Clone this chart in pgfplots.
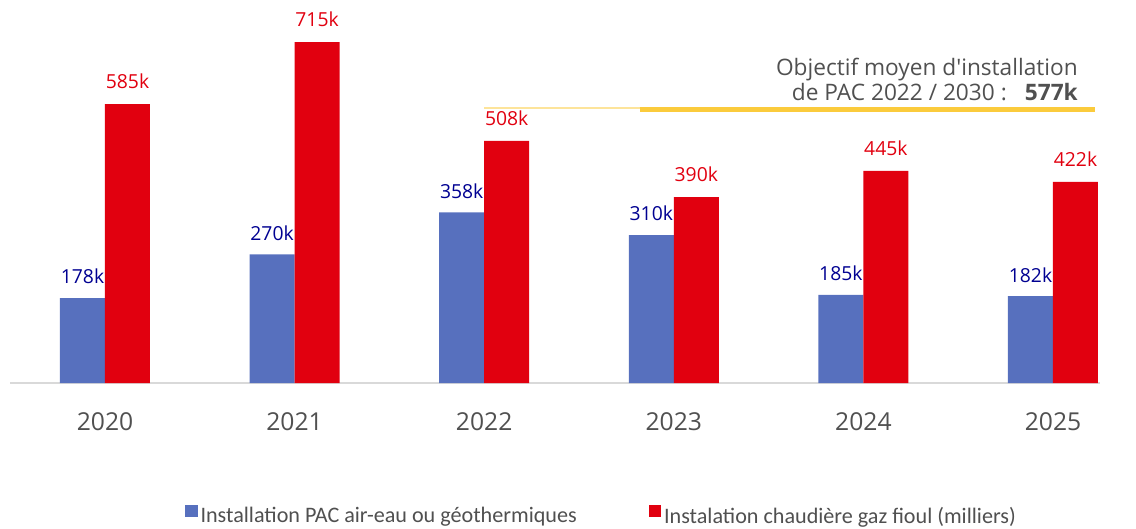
\documentclass[border=0pt]{standalone}
\usepackage{pgfplots}
\pgfplotsset{compat=1.18}
\usepackage{fontspec}
\setmainfont{Open Sans}
\newfontfamily\plain{Open Sans}
\newfontfamily\calib{Carlito}
\definecolor{pacBlue}{HTML}{5770BE}
\definecolor{gazRed}{HTML}{E1000F}
\definecolor{lblBlue}{HTML}{000091}
\definecolor{tickGray}{HTML}{505050}
\definecolor{goalGold}{HTML}{FBCB3C}
\definecolor{goalLight}{HTML}{FDE49A}

\begin{document}
\begin{tikzpicture}
\begin{axis}[
  scale only axis,
  width=817.5pt, height=287.25pt,
  xmin=-0.501, xmax=5.248,
  ymin=0, ymax=803.4,
  ybar=0pt, bar width=33.75pt,
  axis x line*=bottom, axis y line=none,
  x axis line style={draw=black!15, line width=1pt, -},
  xtick={0,...,5},
  xticklabels={2020,2021,2022,2023,2024,2025},
  major tick length=0pt,
  xticklabel style={font=\fontsize{18.5}{20}\selectfont, text=tickGray, yshift=-19pt},
  /pgf/number format/assume math mode=true,
  legend columns=2,
  legend style={
    at={(0.543,-0.347)}, anchor=center, draw=none,
    font=\calib\fontsize{16.6}{19}\selectfont, text=tickGray,
    /tikz/every even column/.append style={column sep=52pt},
  },
  legend image code/.code={\fill[#1] (0pt,-1pt) rectangle (9.5pt,8.5pt);},
]

\addplot[fill=pacBlue, draw=none,
  nodes near coords={\pgfmathprintnumber{\pgfplotspointmeta}k},
  nodes near coords style={text=lblBlue, font=\fontsize{14.5}{16}\selectfont, yshift=7pt}]
  coordinates {(0,178)(1,270)(2,358)(3,310)(4,185)(5,182)};
\addlegendentry{Installation PAC air-eau ou géothermiques}

\addplot[fill=gazRed, draw=none,
  nodes near coords={\pgfmathprintnumber{\pgfplotspointmeta}k},
  nodes near coords style={text=gazRed, font=\fontsize{14.5}{16}\selectfont, yshift=8pt}]
  coordinates {(0,585)(1,715)(2,508)(3,390)(4,445)(5,422)};
\addlegendentry{Instalation chaudière gaz fioul (milliers)}

% objectif 2022/2030
\addplot[sharp plot, forget plot, no marks, draw=goalLight, line width=1.5pt]
  coordinates {(2.0,577)(2.82,577)};
\addplot[sharp plot, forget plot, no marks, draw=goalGold, line width=3.75pt]
  coordinates {(2.82,574)(5.22,574)};

\node[anchor=base east, text=tickGray, font=\plain\fontsize{17}{20}\selectfont, inner sep=0pt]
  at (axis cs:5.132,645) {Objectif moyen d'installation};
\node[anchor=base east, text=tickGray, font=\plain\fontsize{17}{20}\selectfont, inner sep=0pt]
  at (axis cs:5.132,592) {de PAC 2022 / 2030 :\hspace{0.8em}\textbf{577k}};

\end{axis}
\pgfresetboundingbox
\path[use as bounding box]
  ([xshift=-7.5pt,yshift=-108.75pt]current axis.south west)
  rectangle ([xshift=27pt]current axis.north east);
\end{tikzpicture}
\end{document}
